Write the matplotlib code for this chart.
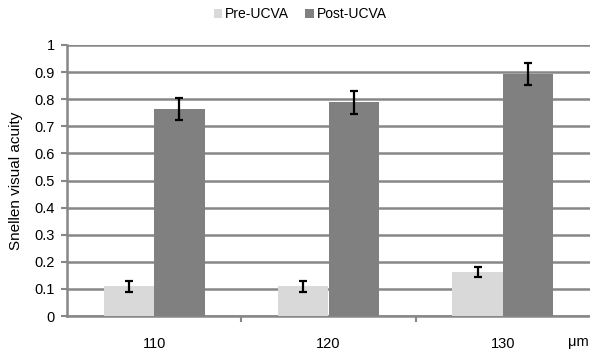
import matplotlib
matplotlib.use("Agg")
import matplotlib.pyplot as plt
import numpy as np

plt.rcParams['font.family'] = ['Liberation Sans', 'DejaVu Sans']

categories = ["110", "120", "130"]
pre_ucva = [0.11, 0.11, 0.163]
post_ucva = [0.763, 0.789, 0.893]
pre_err = [0.02, 0.02, 0.018]
post_err = [0.04, 0.042, 0.042]
y_ticks = [0, 0.1, 0.2, 0.3, 0.4, 0.5, 0.6, 0.7, 0.8, 0.9, 1]
y_ticklabels = ["0", "0.1", "0.2", "0.3", "0.4", "0.5", "0.6", "0.7", "0.8", "0.9", "1"]

fig = plt.figure(figsize=(5.9, 3.55), dpi=100)
ax = fig.add_axes([67/590, 1 - 316/355, 523/590, 271/355])

x = np.arange(len(categories))
w = 0.29
grid_c = "#878787"
ax.bar(x - w/2, pre_ucva, w, color="#d9d9d9", label="Pre-UCVA", zorder=3)
ax.bar(x + w/2, post_ucva, w, color="#808080", label="Post-UCVA", zorder=3)
ax.errorbar(x - w/2, pre_ucva, yerr=pre_err, fmt="none", ecolor="black", elinewidth=1.6, capsize=3, capthick=1.6, zorder=4)
ax.errorbar(x + w/2, post_ucva, yerr=post_err, fmt="none", ecolor="black", elinewidth=1.6, capsize=3, capthick=1.6, zorder=4)

ax.set_xlim(-0.5, 2.5)
ax.set_ylim(0, 1)
ax.set_yticks(y_ticks)
ax.set_yticklabels(y_ticklabels, fontsize=10.5)
ax.yaxis.grid(True, color=grid_c, linewidth=1.8, zorder=0)
ax.set_axisbelow(True)

ax.set_xticks([0.5, 1.5])
ax.set_xticklabels([])
ax.set_xticks(x, minor=True)
ax.set_xticklabels(categories, minor=True, fontsize=10.5)
ax.tick_params(axis='x', which='minor', length=0, pad=15)
ax.tick_params(axis='x', which='major', length=4, color=grid_c, width=1.5)
ax.tick_params(axis='y', length=4, color=grid_c, width=1.5, pad=5)

for s in ["top", "right"]:
    ax.spines[s].set_visible(False)
for s in ["left", "bottom"]:
    ax.spines[s].set_color(grid_c)
    ax.spines[s].set_linewidth(1.8)

ax.set_ylabel("Snellen visual acuity", fontsize=11, labelpad=8)
fig.text(578/590, 1 - 342/355, "μm", fontsize=10.5, ha="center", va="center")

fig.legend(loc="center", bbox_to_anchor=(300/590, 1 - 14/355), ncol=2, frameon=False,
           fontsize=10, handlelength=0.6, handleheight=0.6, handletextpad=0.2, columnspacing=1.2)

fig.savefig("out.png", dpi=100)
